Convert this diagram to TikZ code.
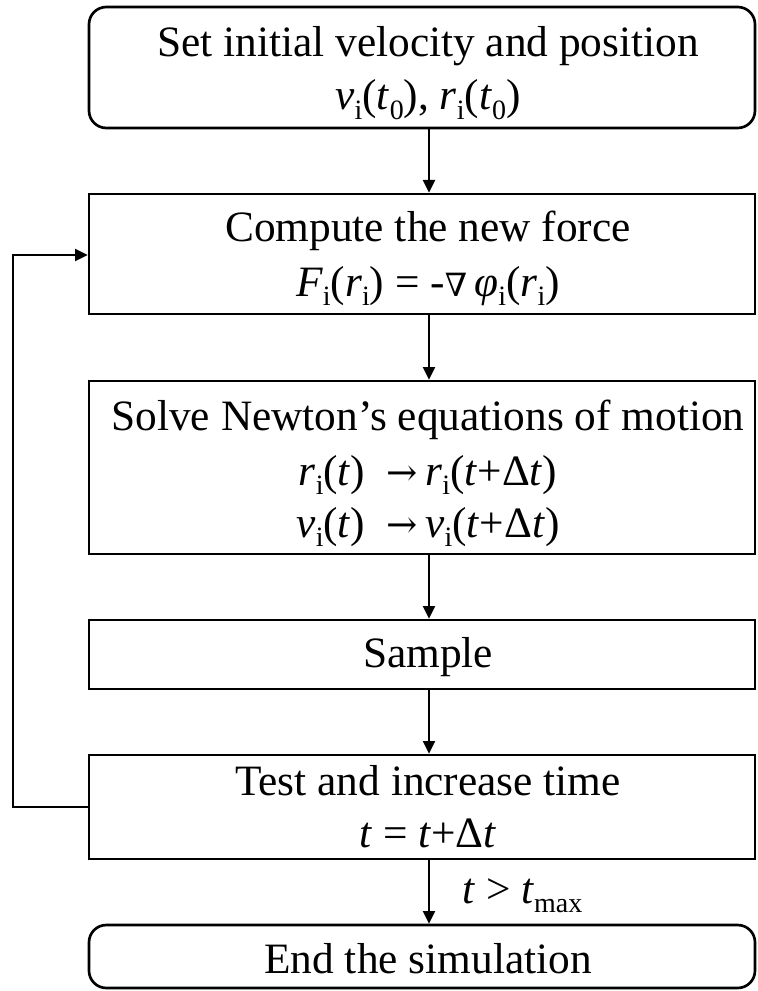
\documentclass[tikz,border=0pt]{standalone}
\usepackage{fontspec}
\setmainfont{Liberation Serif}
\newfontfamily\symf{DejaVu Serif}
\usetikzlibrary{arrows.meta}
\newcommand\sbs[1]{\raisebox{-0.22em}{\fontsize{21}{21}\selectfont #1}}
\newcommand\iv[1]{\textit{#1}}
\newcommand\rarr{{\symf\fontsize{28}{28}\selectfont →}}
\begin{document}
\begin{tikzpicture}[x=0.75pt,y=-0.75pt,
  box/.style={draw,line width=2pt,minimum width=499.5pt,inner sep=0pt},
  rbox/.style={box,rounded corners=13pt},
  txt/.style={anchor=base,inner sep=0pt,font=\fontsize{32.5}{38}\selectfont},
  arr/.style={line width=1.8pt,-{Triangle[length=9.5pt,width=9pt]}}]
\useasboundingbox (0,0) rectangle (757,991);
% boxes
\node[rbox,minimum height=90.75pt] (b1) at (422,67.5) {};
\node[box,minimum height=90pt] (b2) at (422,254) {};
\node[box,minimum height=129.75pt] (b3) at (422,467.5) {};
\node[box,minimum height=51.75pt] (b4) at (422,654.5) {};
\node[box,minimum height=78pt] (b5) at (422,807) {};
\node[rbox,minimum height=47.25pt] (b6) at (422,956.5) {};
% texts
\node[txt] (t1a) at (428,57) {Set initial velocity and position};
\node[txt] (t1b) at (428,110) {\iv{v}\sbs{i}(\iv{t}\sbs{0}), \iv{r}\sbs{i}(\iv{t}\sbs{0})};
\node[txt] (t2a) at (428,242) {Compute the new force};
\node[txt] (t2b) at (428,296) {\iv{F}\sbs{i}(\iv{r}\sbs{i}) = -{\symf\fontsize{24}{24}\selectfont ∇}\,\iv{φ}\sbs{i}(\iv{r}\sbs{i})};
\node[txt] (t3a) at (428,430) {Solve Newton’s equations of motion};
\node[txt] (t3b) at (428,485) {\iv{r}\sbs{i}(\iv{t})\ \ \rarr\,\iv{r}\sbs{i}(\iv{t}+Δ\iv{t})};
\node[txt] (t3c) at (428,537) {\iv{v}\sbs{i}(\iv{t})\ \ \rarr\,\iv{v}\sbs{i}(\iv{t}+Δ\iv{t})};
\node[txt] (t4) at (428,667) {Sample};
\node[txt] (t5a) at (428,795) {Test and increase time};
\node[txt] (t5b) at (428,847) {\iv{t} = \iv{t}+Δ\iv{t}};
\node[txt] (t6) at (428,973) {End the simulation};
% connectors
\coordinate (ax) at (429,0);
\draw[arr] (b1.south -| ax) -- (b2.north -| ax);
\draw[arr] (b2.south -| ax) -- (b3.north -| ax);
\draw[arr] (b3.south -| ax) -- (b4.north -| ax);
\draw[arr] (b4.south -| ax) -- (b5.north -| ax);
\draw[arr] (b5.south -| ax) -- (b6.north -| ax);
\node[txt,anchor=base west] (lbl) at (462,903) {\iv{t} > \iv{t}\sbs{max}};
\coordinate (fb1) at (13,807);
\coordinate (fb2) at (13,255);
\draw[arr] (b5.west |- fb1) -- (fb1) -- (fb2) -- (b2.west |- fb2);
\end{tikzpicture}
\end{document}
